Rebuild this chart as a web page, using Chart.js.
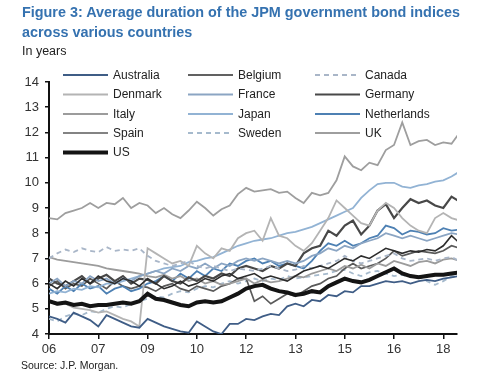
<!DOCTYPE html>
<html>
<head>
<meta charset="utf-8">
<script src="https://cdn.jsdelivr.net/npm/chart.js@4.4.1/dist/chart.umd.min.js"></script>
<style>
  html, body { margin: 0; padding: 0; background: #fff; }
  #wrap { position: relative; width: 500px; height: 388px; overflow: hidden; background: #fff; }
  #c { position: absolute; left: 0; top: 0; }
  .t { position: absolute; font-family: "Liberation Sans", Arial, sans-serif; white-space: nowrap; }
  #title { left: 22px; top: 3px; font-size: 14.4px; font-weight: bold; color: #3572b0; line-height: 19.5px; }
  #sub { left: 22px; top: 44px; font-size: 12.5px; color: #222; }
  #src { left: 21px; top: 359px; font-size: 10.5px; color: #222; }
</style>
</head>
<body>
<div id="wrap">
  <canvas id="c" width="500" height="388"></canvas>
  <div class="t" id="title">Figure 3: Average duration of the JPM government bond indices<br>across various countries</div>
  <div class="t" id="sub">In years</div>
  <div class="t" id="src">Source: J.P. Morgan.</div>
</div>
<script>
// Quarterly observations, Jan 2006 .. Jul 2018 (months since Jan 2006)
const quarterMonths = Array.from({length: 51}, (_, i) => i * 3);
const xTickLabels = ['06', '07', '09', '10', '12', '13', '15', '16', '18'];
const yTicks = [4, 5, 6, 7, 8, 9, 10, 11, 12, 13, 14];

const australia = [4.7,4.6,4.45,4.85,4.7,4.55,4.3,4.75,4.6,4.45,4.3,4.25,4.6,4.45,4.3,4.2,4.1,4.05,4.5,4.3,4.1,4.0,4.4,4.4,4.6,4.55,4.7,4.8,4.75,5.1,5.2,5.1,5.35,5.3,5.55,5.5,5.7,5.65,5.9,5.9,6.0,6.1,6.05,6.1,6.0,6.1,6.15,6.1,6.2,6.25,6.3];
const belgium = [6.0,5.8,6.1,5.9,6.2,6.0,6.3,6.1,6.0,6.2,6.1,5.9,6.2,6.0,5.8,5.9,6.1,5.9,6.0,6.2,6.1,6.3,6.4,6.2,6.3,6.4,6.2,6.3,6.2,6.1,6.3,6.5,6.6,6.7,6.6,6.8,7.0,6.9,7.1,7.0,7.2,7.4,7.3,7.2,7.3,7.25,7.35,7.3,7.5,7.9,7.6];
const canada = [7.0,7.2,7.35,7.25,7.4,7.3,7.25,7.45,7.3,7.35,7.3,7.4,7.1,6.9,6.8,6.7,6.8,6.9,6.7,6.6,6.7,6.6,6.5,6.6,6.55,6.5,6.6,6.7,6.6,6.5,6.55,6.7,6.6,6.7,6.8,6.9,7.1,6.9,6.8,6.9,7.0,7.1,7.2,7.0,6.9,6.95,7.0,6.9,7.0,7.05,6.9];
const denmark = [5.3,5.15,5.2,5.05,5.0,4.95,4.85,4.9,4.75,4.6,4.5,4.3,7.4,7.2,7.0,6.8,6.9,6.7,7.5,7.2,7.0,7.4,7.3,7.8,8.0,8.1,7.7,8.6,7.9,7.8,7.5,7.3,7.6,8.1,8.6,9.3,9.0,8.7,8.4,8.3,8.9,9.2,9.0,8.6,8.3,8.1,8.0,8.6,8.8,8.6,8.5];
const france = [6.0,6.2,5.9,6.1,6.0,6.3,6.1,6.2,6.0,6.2,6.1,6.3,6.4,6.5,6.4,6.6,6.5,6.7,6.6,6.8,6.6,6.8,6.7,6.9,7.0,6.9,7.0,6.9,6.8,6.9,6.8,6.9,7.1,7.2,7.4,7.3,7.5,7.4,7.6,7.7,7.8,8.0,7.9,7.8,7.9,7.8,7.7,7.8,7.9,8.0,7.95];
const germany = [6.2,6.0,5.9,6.1,6.3,6.0,6.2,6.35,6.1,6.3,6.0,6.2,6.15,6.0,6.3,6.1,6.0,6.25,6.1,6.3,6.2,6.4,6.3,6.6,6.7,6.6,6.5,6.7,6.6,6.8,6.7,7.2,7.4,7.5,8.1,7.9,8.3,8.5,7.95,8.3,8.9,9.15,8.6,9.0,9.35,9.2,9.3,9.1,9.0,9.45,9.25];
const italy = [7.05,6.95,6.9,6.85,6.8,6.75,6.7,6.6,6.55,6.5,6.45,6.4,6.3,6.25,6.35,6.2,6.3,6.1,6.2,6.0,6.1,5.95,6.0,6.1,6.2,6.0,6.15,6.05,6.1,6.2,6.3,6.25,6.4,6.5,6.6,6.5,6.7,6.6,6.75,6.6,6.8,6.7,6.9,6.8,6.7,6.85,6.9,6.8,6.95,7.0,6.9];
const japan = [5.6,5.7,5.65,5.8,5.75,5.9,5.85,6.0,6.0,6.1,6.2,6.3,6.4,6.5,6.6,6.65,6.7,6.85,6.9,7.0,7.05,7.2,7.35,7.5,7.6,7.7,7.75,7.8,7.9,8.0,8.05,8.15,8.25,8.4,8.55,8.7,8.85,9.0,9.4,9.7,9.95,10.0,10.0,9.85,9.8,9.9,9.95,10.05,10.1,10.25,10.45];
const netherlands = [5.8,5.6,5.9,5.7,6.0,5.8,5.9,5.6,5.8,5.9,5.7,5.8,6.0,6.1,6.3,6.1,6.4,6.2,6.5,6.3,6.6,6.5,6.8,6.7,6.9,7.0,6.8,6.9,6.7,6.8,6.7,6.6,6.9,7.3,7.6,7.5,7.7,7.5,7.6,7.8,7.9,8.3,8.2,7.95,8.1,8.05,7.95,8.0,8.2,8.1,8.15];
const spain = [5.9,6.1,5.8,6.0,5.9,6.2,6.0,5.8,6.1,5.9,5.8,5.9,5.85,5.7,5.9,6.0,5.8,5.7,5.9,5.8,5.7,5.9,6.0,6.2,6.2,5.3,5.5,5.2,5.4,5.6,5.5,5.7,5.9,6.0,6.2,6.3,6.6,6.8,6.6,6.7,6.8,7.0,7.3,7.1,7.2,7.3,7.25,7.2,7.3,7.5,7.4];
const sweden = [4.6,4.5,4.7,4.8,4.75,4.9,4.85,5.0,5.1,5.05,5.2,5.3,5.4,5.5,5.45,5.6,5.7,5.65,5.8,5.9,5.85,6.0,6.1,6.0,6.1,6.2,6.1,6.2,6.15,6.3,6.2,6.25,6.3,6.35,6.4,6.5,6.55,6.4,6.3,6.45,6.5,6.4,6.3,6.35,6.25,6.3,6.1,5.95,6.1,6.3,6.25];
const uk = [8.6,8.55,8.8,8.9,9.0,9.2,9.0,9.2,9.15,9.4,9.0,9.2,9.1,8.8,9.0,8.75,8.6,8.9,9.25,9.0,8.7,8.95,9.1,9.55,9.8,9.65,9.7,9.75,9.6,9.65,9.4,9.2,9.6,9.5,9.6,10.1,11.05,10.65,10.5,10.8,10.7,11.3,11.5,12.4,11.5,11.65,11.7,11.5,11.6,11.55,12.0];
const us = [5.3,5.2,5.25,5.15,5.2,5.1,5.15,5.15,5.2,5.25,5.2,5.3,5.6,5.4,5.35,5.25,5.15,5.1,5.25,5.3,5.25,5.3,5.45,5.6,5.8,5.9,5.95,5.8,5.7,5.65,5.55,5.6,5.7,5.65,5.9,6.05,6.2,6.1,6.05,6.15,6.3,6.45,6.6,6.4,6.3,6.25,6.3,6.35,6.35,6.4,6.45];

const seriesNames = ['Australia','Belgium','Canada','Denmark','France','Germany','Italy','Japan','Netherlands','Spain','Sweden','UK','US'];
const seriesValues = [australia, belgium, canada, denmark, france, germany, italy, japan, netherlands, spain, sweden, uk, us];
const seriesStyle = [
  {color: '#3f5d86', width: 1.8, dash: []},
  {color: '#2c2c2c', width: 1.6, dash: []},
  {color: '#a9b6c8', width: 1.8, dash: [5, 4]},
  {color: '#b4b4b4', width: 1.8, dash: []},
  {color: '#8ba5c3', width: 1.8, dash: []},
  {color: '#484848', width: 2.2, dash: []},
  {color: '#9c9c9c', width: 1.8, dash: []},
  {color: '#92b3d4', width: 1.8, dash: []},
  {color: '#4d80b3', width: 1.8, dash: []},
  {color: '#5a5a5a', width: 1.7, dash: []},
  {color: '#a6bacd', width: 1.8, dash: [5, 4]},
  {color: '#9e9e9e', width: 1.8, dash: []},
  {color: '#141414', width: 4, dash: []}
];

const datasets = seriesNames.map((name, k) => ({
  label: name,
  data: seriesValues[k].map((v, i) => ({x: quarterMonths[i], y: v})),
  borderColor: seriesStyle[k].color,
  borderWidth: seriesStyle[k].width,
  borderDash: seriesStyle[k].dash,
  pointRadius: 0,
  tension: 0,
  fill: false,
  order: name === 'US' ? 0 : 1
}));

const legendPlugin = {
  id: 'gridLegend',
  afterDraw(chart) {
    const ctx = chart.ctx;
    const cols = [63, 188, 315];
    const rows = [75, 94.5, 114, 133, 152.5];
    ctx.save();
    ctx.font = '12px "Liberation Sans", Arial, sans-serif';
    ctx.textBaseline = 'middle';
    ctx.fillStyle = '#222';
    seriesNames.forEach((name, k) => {
      const x = cols[k % 3];
      const y = rows[Math.floor(k / 3)];
      const st = seriesStyle[k];
      ctx.beginPath();
      ctx.strokeStyle = st.color;
      ctx.lineWidth = st.width;
      ctx.setLineDash(st.dash);
      ctx.moveTo(x, y);
      ctx.lineTo(x + 45, y);
      ctx.stroke();
      ctx.setLineDash([]);
      ctx.fillText(name, x + 50, y + 0.5);
    });
    ctx.restore();
  }
};

new Chart(document.getElementById('c'), {
  type: 'line',
  data: { datasets },
  plugins: [legendPlugin],
  options: {
    responsive: false,
    animation: false,
    devicePixelRatio: 1,
    layout: { padding: { left: 0, top: 82, right: 43, bottom: 0 } },
    plugins: { legend: { display: false }, tooltip: { enabled: false }, title: { display: false } },
    scales: {
      x: {
        type: 'linear',
        min: 0,
        max: 149,
        afterFit(s) { s.height = 54; },
        border: { display: true, color: '#111', width: 2 },
        grid: { display: true, drawOnChartArea: false, drawTicks: true, tickLength: 5, color: '#111', lineWidth: 1.5 },
        ticks: {
          stepSize: 18,
          includeBounds: false,
          autoSkip: false,
          maxRotation: 0,
          padding: 3,
          color: '#333',
          font: { family: '"Liberation Sans", Arial, sans-serif', size: 13 },
          callback: (v) => (v % 18 === 0 ? xTickLabels[v / 18] : '')
        }
      },
      y: {
        min: yTicks[0],
        max: yTicks[yTicks.length - 1],
        afterFit(s) { s.width = 49; },
        border: { display: true, color: '#111', width: 2 },
        grid: { display: true, drawOnChartArea: false, drawTicks: true, tickLength: 4, color: '#111', lineWidth: 1.5 },
        ticks: {
          stepSize: 1,
          padding: 6,
          color: '#333',
          font: { family: '"Liberation Sans", Arial, sans-serif', size: 13 }
        }
      }
    }
  }
});
</script>
</body>
</html>
